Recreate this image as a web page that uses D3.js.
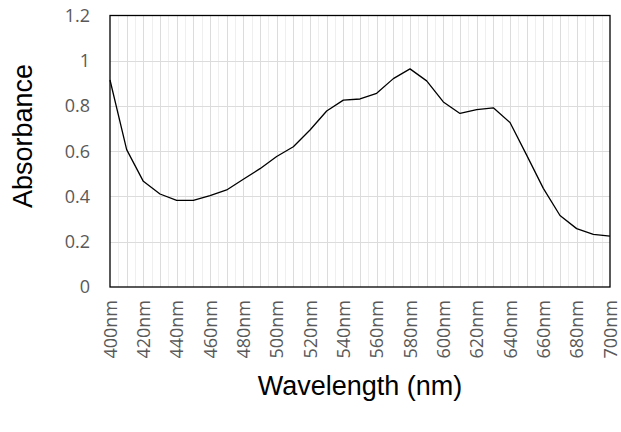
<!DOCTYPE html>
<html>
<head>
<meta charset="utf-8">
<script src="https://cdn.jsdelivr.net/npm/d3@7"></script>
<style>
  body { margin: 0; background: #fff; }
  svg { display: block; }
</style>
</head>
<body>
<svg id="chart" width="621" height="432"></svg>
<script>
const wavelengths = [400,410,420,430,440,450,460,470,480,490,500,510,520,530,540,550,560,570,580,590,600,610,620,630,640,650,660,670,680,690,700];
const absorbance = [0.915,0.607,0.467,0.411,0.383,0.383,0.404,0.429,0.476,0.523,0.577,0.620,0.694,0.778,0.826,0.831,0.856,0.921,0.964,0.911,0.818,0.767,0.784,0.792,0.727,0.583,0.436,0.316,0.258,0.233,0.225];
const xTickLabels = [400,420,440,460,480,500,520,540,560,580,600,620,640,660,680,700];
const yTicks = [0,0.2,0.4,0.6,0.8,1,1.2];

const svg = d3.select("#chart");
const m = {left: 110, right: 610, top: 15.5, bottom: 287};

const x = d3.scaleLinear().domain([400, 700]).range([m.left, m.right]);
const y = d3.scaleLinear().domain([0, 1.2]).range([m.bottom, m.top]);

// minor vertical gridlines (every 5nm)
const minor = d3.range(405, 700, 10);
svg.append("g").selectAll("line").data(minor).join("line")
  .attr("x1", d => Math.round(x(d)) + 0.5).attr("x2", d => Math.round(x(d)) + 0.5)
  .attr("y1", m.top).attr("y2", m.bottom)
  .attr("stroke", "#efefef").attr("stroke-width", 1);

// major vertical gridlines (every 10nm)
svg.append("g").selectAll("line").data(wavelengths.slice(1, -1)).join("line")
  .attr("x1", d => Math.round(x(d)) + 0.5).attr("x2", d => Math.round(x(d)) + 0.5)
  .attr("y1", m.top).attr("y2", m.bottom)
  .attr("stroke", "#dcdcdc").attr("stroke-width", 1);

// horizontal gridlines
svg.append("g").selectAll("line").data(yTicks.slice(1, -1)).join("line")
  .attr("x1", m.left).attr("x2", m.right)
  .attr("y1", d => Math.round(y(d)) + 0.5).attr("y2", d => Math.round(y(d)) + 0.5)
  .attr("stroke", "#dcdcdc").attr("stroke-width", 1.2);

// plot border
svg.append("rect")
  .attr("x", m.left).attr("y", m.top)
  .attr("width", m.right - m.left).attr("height", m.bottom - m.top)
  .attr("fill", "none").attr("stroke", "#000").attr("stroke-width", 1.3);

// y axis labels
const yAxis = d3.axisLeft(y).tickValues(yTicks).tickSize(0).tickPadding(20)
  .tickFormat(d => d3.format("~g")(d));
const gy = svg.append("g").attr("transform", `translate(${m.left},0)`).call(yAxis);
gy.select(".domain").remove();
gy.selectAll("text").attr("font-family", "'Open Sans', sans-serif").attr("font-size", 18).attr("fill", "#595959");

// x axis labels
const xAxis = d3.axisBottom(x).tickValues(xTickLabels).tickSize(0).tickFormat(d => d + "nm");
const gx = svg.append("g").attr("transform", `translate(0,${m.bottom})`).call(xAxis);
gx.select(".domain").remove();
gx.selectAll("text")
  .attr("font-family", "'Open Sans', sans-serif").attr("font-size", 18).attr("fill", "#595959")
  .attr("transform", "rotate(-90)")
  .attr("text-anchor", "end")
  .attr("x", -13).attr("y", 0).attr("dy", "0.35em");

// line
svg.append("path")
  .datum(wavelengths.map((w, i) => [w, absorbance[i]]))
  .attr("fill", "none").attr("stroke", "#000").attr("stroke-width", 1.3)
  .attr("stroke-linejoin", "round")
  .attr("d", d3.line().x(d => x(d[0])).y(d => y(d[1])));

// axis titles
svg.append("text")
  .attr("transform", `translate(32,136) rotate(-90)`)
  .attr("text-anchor", "middle")
  .attr("font-family", "'Liberation Sans', Arial, sans-serif").attr("font-size", 27).attr("fill", "#000")
  .text("Absorbance");

svg.append("text")
  .attr("x", (m.left + m.right) / 2).attr("y", 395)
  .attr("text-anchor", "middle")
  .attr("font-family", "'Liberation Sans', Arial, sans-serif").attr("font-size", 27).attr("fill", "#000")
  .text("Wavelength (nm)");
</script>
</body>
</html>
